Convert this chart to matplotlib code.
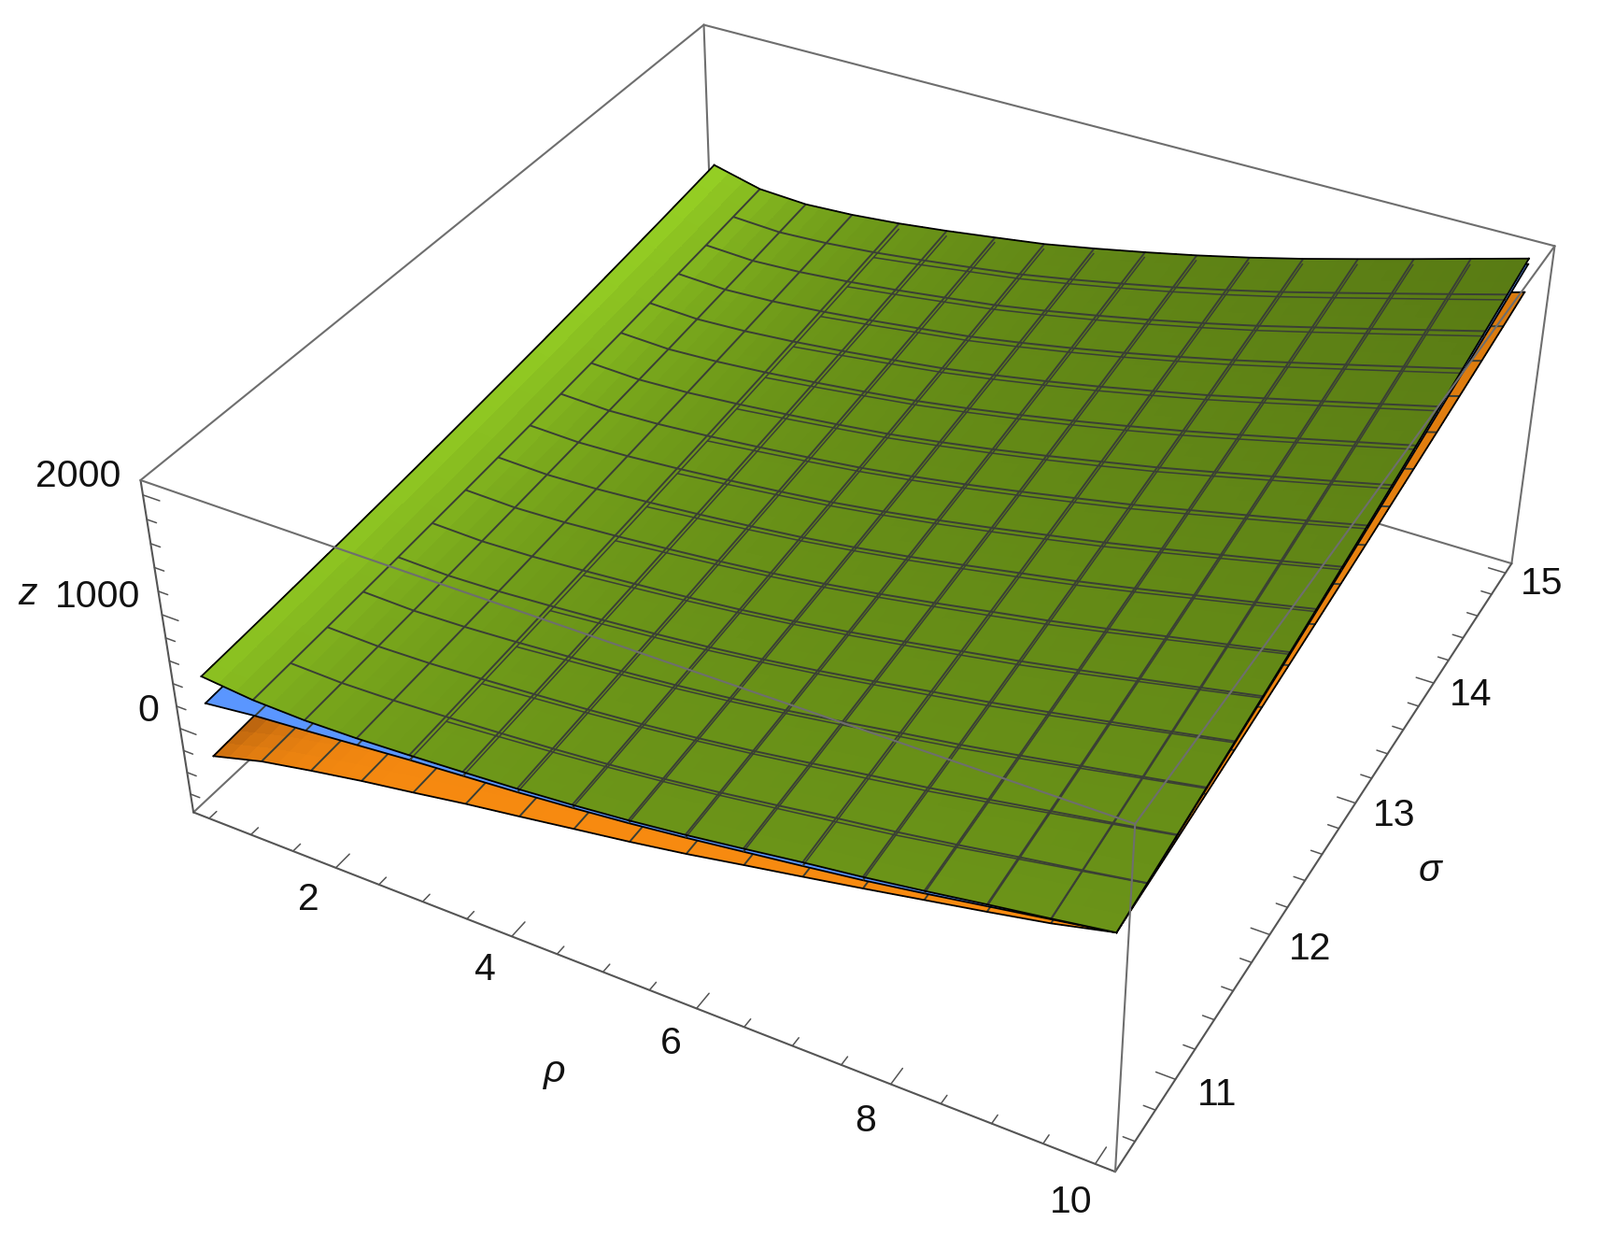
import numpy as np, matplotlib
matplotlib.use('Agg')
import matplotlib.pyplot as plt
from mpl_toolkits.mplot3d import Axes3D
W,H=1713,1323
# Values: rows are rho mesh lines, columns are sigma mesh lines
rho_lines=[0.5,1.09375,1.6875,2.28125,2.875,3.46875,4.0625,4.65625,5.25,5.84375,6.4375,7.03125,7.625,8.21875,8.8125,9.40625,10.0]
sigma_lines=[10.5,10.78125,11.0625,11.34375,11.625,11.90625,12.1875,12.46875,12.75,13.03125,13.3125,13.59375,13.875,14.15625,14.4375,14.71875,15.0]
green_z=[
[419,440,462,486,511,538,565,595,626,658,691,727,763,801,840,881,923],
[376,395,414,435,457,481,505,531,557,586,615,645,677,710,743,779,815],
[366,384,404,424,446,469,493,518,544,571,599,628,659,691,723,757,792],
[378,397,417,439,461,485,509,535,562,590,618,649,680,712,745,780,815],
[402,422,444,466,490,514,540,567,595,624,654,685,717,751,785,820,857],
[430,452,475,499,524,550,578,606,636,667,698,731,765,800,836,874,912],
[460,484,509,535,562,590,620,650,682,715,748,783,819,857,895,934,975],
[498,523,550,578,607,637,668,700,733,768,803,840,878,917,957,998,1040],
[544,572,601,631,662,694,728,762,798,835,873,912,953,994,1036,1080,1125],
[600,630,661,693,727,761,797,834,872,911,951,993,1035,1079,1124,1170,1217],
[665,697,730,765,800,837,875,914,954,995,1037,1081,1125,1171,1218,1266,1315],
[733,768,803,840,878,917,958,999,1042,1085,1130,1176,1223,1271,1320,1371,1422],
[795,833,872,912,954,996,1040,1084,1130,1177,1225,1275,1325,1377,1429,1483,1538],
[866,907,950,993,1038,1084,1131,1179,1228,1279,1330,1383,1437,1492,1548,1605,1663],
[942,987,1032,1079,1127,1176,1227,1278,1330,1384,1439,1494,1551,1609,1668,1729,1790],
[1015,1063,1113,1163,1215,1268,1321,1376,1432,1489,1547,1607,1667,1728,1791,1854,1919],
[1092,1144,1197,1251,1306,1362,1419,1477,1537,1597,1658,1720,1784,1848,1914,1980,2048]]
blue_z=[
[180,201,223,247,272,298,326,355,386,418,452,487,523,561,600,641,683],
[236,255,274,295,317,341,365,391,417,446,475,505,537,570,603,639,675],
[275,293,313,333,355,378,402,427,453,480,508,537,568,600,632,666,701],
[318,337,357,378,401,424,448,474,501,528,557,587,618,650,683,718,753],
[360,380,401,423,446,470,495,521,549,577,607,637,669,702,736,771,807],
[395,416,439,462,487,512,539,567,596,626,657,689,723,757,793,829,867],
[430,453,477,503,529,556,585,615,646,678,711,745,780,817,854,893,933],
[472,496,522,549,577,606,636,667,699,733,767,803,840,878,917,957,998],
[520,547,574,603,634,665,697,731,765,801,838,876,915,955,997,1039,1083],
[576,605,635,666,698,732,766,802,839,877,916,956,998,1040,1084,1129,1175],
[639,670,702,736,770,806,843,881,920,960,1001,1044,1087,1132,1178,1225,1273],
[702,736,771,807,845,883,923,963,1005,1048,1092,1137,1184,1231,1280,1329,1380],
[768,805,843,882,923,964,1007,1050,1095,1141,1188,1237,1286,1337,1388,1441,1495],
[845,885,926,968,1011,1056,1101,1148,1196,1245,1295,1346,1398,1452,1506,1562,1619],
[927,970,1014,1059,1105,1152,1200,1250,1300,1352,1405,1459,1514,1570,1627,1686,1745],
[1009,1055,1102,1150,1199,1249,1300,1352,1406,1460,1516,1572,1630,1689,1749,1810,1872],
[1092,1141,1191,1242,1294,1347,1401,1456,1513,1570,1628,1687,1748,1809,1872,1935,2000]]
orange_z=[
[-298,-277,-255,-232,-207,-180,-153,-123,-93,-61,-27,7,44,81,121,161,203],
[-173,-158,-141,-123,-105,-84,-63,-41,-17,8,34,61,89,119,150,182,215],
[-83,-69,-54,-38,-21,-2,17,37,59,82,106,131,157,184,212,242,272],
[0,13,28,43,60,78,97,117,138,160,183,207,233,259,287,315,345],
[73,86,101,116,133,151,169,189,210,232,255,280,305,331,359,387,417],
[150,163,177,193,209,227,245,265,286,308,331,355,380,406,434,462,492],
[218,232,247,263,280,299,318,339,361,384,408,433,459,486,515,544,575],
[289,303,319,336,354,373,393,414,436,460,484,510,537,565,594,624,655],
[359,375,393,411,431,452,473,497,521,546,572,600,629,659,690,722,755],
[437,455,474,494,516,538,562,587,613,640,668,698,728,760,793,827,862],
[525,545,565,587,610,635,660,686,714,743,772,803,835,869,903,938,975],
[611,633,655,679,704,730,758,786,816,846,878,911,945,980,1016,1054,1092],
[699,723,748,774,802,830,860,890,922,955,989,1025,1061,1099,1137,1177,1218],
[790,817,845,874,904,935,967,1001,1035,1071,1108,1146,1185,1225,1267,1309,1353],
[881,911,942,974,1007,1041,1076,1112,1150,1189,1228,1269,1311,1354,1398,1444,1490],
[976,1008,1042,1076,1112,1149,1186,1225,1265,1306,1348,1392,1436,1481,1528,1575,1624],
[1092,1126,1161,1197,1234,1272,1311,1351,1392,1434,1478,1522,1567,1614,1661,1709,1759]]
rho_ticks=[2,4,6,8,10]
sigma_ticks=[11,12,13,14,15]
z_ticks=[0,1000,2000]

G=np.array(green_z,float);B=np.array(blue_z,float);O=np.array(orange_z,float)
rho=np.array(rho_lines);sig=np.array(sigma_lines)
n=len(rho)
rl=(0.31,10.19);sl=(10.41,15.09);zl=(-770,2120)
S=671.56
fig=plt.figure(figsize=(W/100,H/100),dpi=100)
L=945.72-S*.095/.185;Bt=760.72-S*.095/.185
ax=fig.add_axes([L/W,Bt/H,S/W,S/H],projection='3d',computed_zorder=False)
ax.set_proj_type('persp')
ax.view_init(elev=36.1606,azim=-61.5912,roll=0.0448)
ax.set_box_aspect((2.4976,2.5048,1),zoom=2.2857)
ax.set_xlim(rl);ax.set_ylim(sl);ax.set_zlim(zl)
ax.set_axis_off()
# faces are subdivided only so that the colour gradient can be smooth
k=3
a=np.linspace(0,n-1,(n-1)*k+1);idx=np.arange(n)
def fine(Z):
    Z1=np.array([np.interp(a,idx,row) for row in Z])
    return np.array([np.interp(a,idx,col) for col in Z1.T]).T
RF,SF=np.meshgrid(np.interp(a,idx,rho),np.interp(a,idx,sig),indexing='ij')
uc=(np.linspace(0,1,(n-1)*k+1)[:-1]+.5/((n-1)*k))
U,V=np.meshgrid(uc,uc,indexing='ij')
def green_col():
    base=np.array([107,148,24])[None,None]/255
    c=base*(1-.17*(V*U)[...,None]**.8)
    f=(np.exp(-U*8)*(.8+.25*V))[...,None]
    return c*(1-f)+f*np.array([150,208,36])/255
def orange_col():
    base=np.array([247,138,16])/255
    c=base*(1-.12*V[...,None])
    f=(np.exp(-U*14)*np.clip(.55+V*8,0,1))[...,None]
    return c*(1-f)+f*np.array([178,95,15])/255
def blue_col():
    return np.ones(U.shape+(3,))*np.array([90,150,255])/255
def surf(Z,cols,zo):
    ax.plot_surface(RF,SF,fine(Z),facecolors=cols,shade=False,rstride=1,cstride=1,antialiased=False,linewidth=0,zorder=zo)
mesh='#3a3f35'
def meshlines(Z,zo,imin=1,lw=1.4):
    for i in range(max(imin,1),n-1):
        ax.plot([rho[i]]*n,sig,Z[i],color=mesh,lw=lw,zorder=zo,solid_capstyle='butt')
    for j in range(1,n-1):
        ax.plot(rho[imin:],[sig[j]]*(n-imin),Z[imin:,j],color=mesh,lw=lw,zorder=zo,solid_capstyle='butt')
def boundary(Z,zo,lw=1.3):
    ax.plot(rho,[sig[0]]*n,Z[:,0],color='k',lw=lw,zorder=zo)
    ax.plot(rho,[sig[-1]]*n,Z[:,-1],color='k',lw=lw,zorder=zo)
    ax.plot([rho[0]]*n,sig,Z[0],color='k',lw=lw,zorder=zo)
    ax.plot([rho[-1]]*n,sig,Z[-1],color='k',lw=lw,zorder=zo)
box='#6e6e6e'
def seg(p,q,zo,col=box,lw=1.5):
    ax.plot([p[0],q[0]],[p[1],q[1]],[p[2],q[2]],color=col,lw=lw,zorder=zo,solid_capstyle='round')
r0,r1=rl;s0,s1=sl;z0,z1=zl
for p,q in [((r0,s0,z0),(r0,s1,z0)),((r0,s1,z0),(r1,s1,z0)),((r0,s1,z0),(r0,s1,z1)),((r1,s1,z0),(r1,s1,z1)),((r0,s1,z1),(r1,s1,z1)),((r0,s0,z1),(r0,s1,z1))]:
    seg(p,q,1)
for p,q in [((r0,s0,z0),(r1,s0,z0)),((r1,s0,z0),(r1,s1,z0)),((r0,s0,z0),(r0,s0,z1))]:
    seg(p,q,1,col='#555555')
surf(O,orange_col(),2);meshlines(O,3);boundary(O,3)
surf(B,blue_col(),4);meshlines(B,5);boundary(B,5)
surf(G,green_col(),6);meshlines(B,7,imin=4,lw=1.1);meshlines(G,8);boundary(G,8)
for p,q in [((r0,s0,z1),(r1,s0,z1)),((r1,s0,z1),(r1,s1,z1)),((r1,s0,z0),(r1,s0,z1))]:
    seg(p,q,10)
tick='#555555'
for t in np.arange(.5,10.01,.5):
    m=abs(t%2)<1e-6
    seg((t,s0,z0),(t,s0+(.105 if m else .055),z0),1,col=tick,lw=1.1)
for t in np.arange(10.6,15.01,.2):
    m=abs(t-round(t))<1e-6
    seg((r1,t,z0),(r1-(.19 if m else .115),t,z0),1,col=tick,lw=1.1)
for t in np.arange(-600,2001,200):
    m=t%1000==0
    seg((r0,s0,t),(r0+(.19 if m else .11),s0,t),1,col=tick,lw=1.1)
font=dict(family='Liberation Sans',fontsize=29.5,color='#111111')
for t in rho_ticks:
    ax.text(t-.02,s0-.2,z0-60,str(t),ha='center',va='center',**font)
for t in sigma_ticks:
    ax.text(r1+.4,t,z0,str(t),ha='center',va='center',**font)
for t in z_ticks:
    ax.text(r0-.23,s0,t+90,str(t),ha='right',va='center',**font)
ital=dict(family='Liberation Sans',fontsize=29.5,style='italic',color='#111111',ha='center',va='center')
fig.text(594/W,1-1147/H,'ρ',**ital)
fig.text(1530.6/W,1-932/H,'σ',**ital)
fig.text(29.5/W,1-636/H,'z',**ital)
for c in ax.get_children():
    c.set_clip_on(False)
fig.savefig('out.png',dpi=100)
